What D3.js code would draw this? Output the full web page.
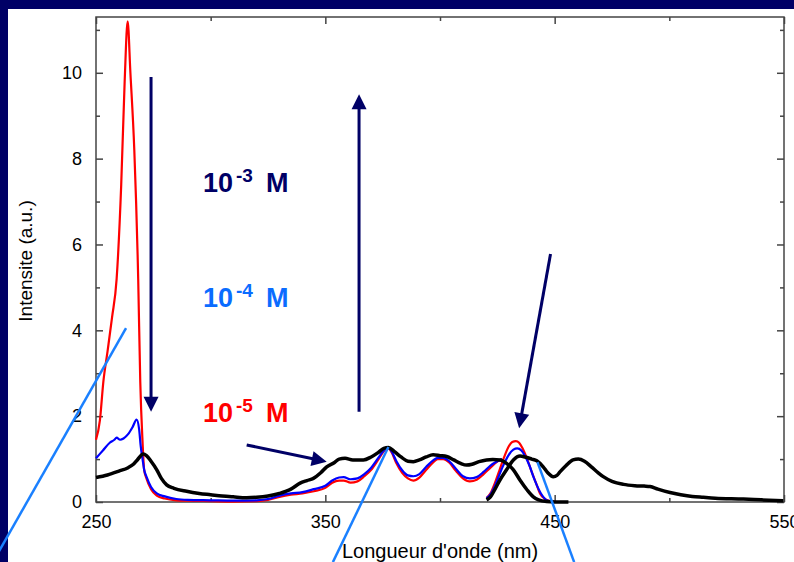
<!DOCTYPE html>
<html><head><meta charset="utf-8">
<script src="https://cdn.jsdelivr.net/npm/d3@7"></script>
<style>
html,body{margin:0;padding:0;background:#000066;}
svg{display:block;}
text{font-family:"Liberation Sans",Arial,sans-serif;}
</style></head>
<body>
<svg id="chart" width="794" height="562"></svg>
<script>
// ---- data ----
const xMajorTicks = [250, 350, 450, 550];
const xMinorTicks = [300, 400, 500];
const yMajorTicks = [0, 2, 4, 6, 8, 10];
const yMinorTicks = [1, 3, 5, 7, 9, 11];

// 10^-5 M (red)
const redWl  = [250,251.7,253.2,255,257,259,261,262.5,263.8,265,266.7,268.4,269.3,270.3,271,272,274,276.5,280,285,290,300,310,320,325,330,335,340,345,350,353,356,358,361,364,367,370,373,375.5,377.5,379,381,383.5,386,388.4,391,394,397,399,401.4,404,407,410,413,416,419,422,425,427];
const redI   = [1.45,1.9,2.8,3.5,4.3,5.2,7.4,9.8,11.2,10.0,8.2,5.2,2.8,1.4,0.75,0.55,0.3,0.15,0.08,0.04,0.03,0.02,0.01,0.02,0.05,0.12,0.17,0.2,0.25,0.33,0.45,0.5,0.5,0.45,0.48,0.6,0.75,0.98,1.18,1.25,1.15,0.9,0.68,0.55,0.5,0.57,0.75,0.92,1.0,1.0,0.92,0.72,0.55,0.48,0.52,0.65,0.8,0.94,1.0];
const redWl2 = [420.3,422,424,426,428,430,431.5,433.1,434.5,436,438,440,441.8,443.6,445.5,448,451];
const redI2  = [0.09,0.2,0.45,0.75,1.05,1.3,1.4,1.42,1.38,1.25,1.0,0.7,0.45,0.2,0.08,0.02,0];

// 10^-4 M (blue)
const blueWl  = [250,253,256,258,259,260.5,262,264,266,267.7,268.8,269.5,270.3,271,272,274,276.5,280,285,290,300,310,320,325,330,335,340,345,350,353,356,358,361,364,367,370,373,375.5,377.5,379,381,383.5,386,388.4,391,394,397,399,401.4,404,407,410,413,416,419,422,425,427];
const blueI   = [1.02,1.2,1.38,1.45,1.5,1.45,1.48,1.58,1.75,1.92,1.7,1.3,1.0,0.75,0.59,0.35,0.2,0.13,0.07,0.05,0.04,0.03,0.04,0.07,0.15,0.2,0.23,0.3,0.38,0.5,0.57,0.58,0.53,0.55,0.65,0.8,1.02,1.2,1.27,1.17,0.95,0.74,0.62,0.6,0.65,0.82,0.97,1.03,1.03,0.95,0.77,0.6,0.55,0.58,0.7,0.85,0.95,1.0];
const blueWl2 = [420.3,422,424,426,428,430,432,433.7,435.5,437,439,441,443,445,447,450];
const blueI2  = [0.09,0.18,0.38,0.65,0.9,1.1,1.22,1.25,1.2,1.08,0.85,0.55,0.3,0.12,0.03,0];

// 10^-3 M (black)
const blackWl  = [250,255,260,264,266.3,268,270.6,272,274,276.5,278.5,280.8,284,289.5,295,300,305,309.8,315.7,320,325,330,335,339,342,344.8,348,350.6,354,356,358.6,362,366.6,370,373,375.5,377.5,380,383,386,388.4,391,394,397,400,402.9,406,409,411.6,414,417,420.3,423,426.2,429,432,435,438,440.7,443,446.5,450,456];
const blackI   = [0.57,0.63,0.72,0.8,0.88,0.98,1.12,1.08,0.95,0.75,0.55,0.4,0.32,0.25,0.2,0.17,0.14,0.12,0.1,0.11,0.14,0.2,0.3,0.44,0.5,0.55,0.68,0.82,0.92,1.0,1.02,0.98,0.98,1.05,1.15,1.25,1.27,1.18,1.05,0.95,0.94,0.98,1.05,1.1,1.08,1.06,0.98,0.9,0.86,0.88,0.94,0.98,0.99,0.98,0.9,0.75,0.5,0.28,0.12,0.05,0.01,0,0];
const blackWl2 = [420.3,422,424,426,429,432,434.9,437,440,442.2,445,447,449.4,451,452.3,455,458,460.3,463,466,469,471.2,475,480,485,489,491.6,495,500.3,505,510,514.8,520,532.3,540,549.7];
const blackI2  = [0.05,0.12,0.3,0.5,0.75,0.98,1.07,1.05,1.0,0.96,0.82,0.68,0.59,0.62,0.7,0.85,0.98,1.0,0.95,0.82,0.68,0.59,0.48,0.41,0.38,0.37,0.36,0.3,0.22,0.17,0.13,0.11,0.09,0.07,0.05,0.03];

const labels = [
  {exp:"-3", color:"#000066", y:192},
  {exp:"-4", color:"#0a6cff", y:307},
  {exp:"-5", color:"#ff0000", y:422}
];

// ---- drawing ----
const W = 794, H = 562;
const svg = d3.select("#chart");
const m = {left:96, right:784, top:17, bottom:502};

svg.append("rect").attr("x",8).attr("y",9).attr("width",W-8).attr("height",H-9).attr("fill","#fff");

const x = d3.scaleLinear().domain([250,550]).range([m.left,m.right]);
const y = d3.scaleLinear().domain([0,11.3]).range([m.bottom,m.top]);

const tickFont = 18;
function styleAxis(g){
  g.select(".domain").remove();
  g.selectAll("line").attr("stroke","#444").attr("stroke-width",1.5);
  g.selectAll("text").attr("font-size",tickFont).attr("fill","#000");
}
// bottom
svg.append("g").attr("transform",`translate(0,${m.bottom})`)
  .call(d3.axisBottom(x).tickValues(xMajorTicks).tickSize(-7).tickPadding(13).tickFormat(d3.format("d")))
  .call(styleAxis);
svg.append("g").attr("transform",`translate(0,${m.bottom})`)
  .call(d3.axisBottom(x).tickValues(xMinorTicks).tickSize(-4).tickFormat(""))
  .call(styleAxis);
// top
svg.append("g").attr("transform",`translate(0,${m.top})`)
  .call(d3.axisTop(x).tickValues(xMajorTicks).tickSize(-7).tickFormat(""))
  .call(styleAxis);
svg.append("g").attr("transform",`translate(0,${m.top})`)
  .call(d3.axisTop(x).tickValues(xMinorTicks).tickSize(-4).tickFormat(""))
  .call(styleAxis);
// left
svg.append("g").attr("transform",`translate(${m.left},0)`)
  .call(d3.axisLeft(y).tickValues(yMajorTicks).tickSize(-7).tickPadding(14).tickFormat(d3.format("d")))
  .call(styleAxis);
svg.append("g").attr("transform",`translate(${m.left},0)`)
  .call(d3.axisLeft(y).tickValues(yMinorTicks).tickSize(-4).tickFormat(""))
  .call(styleAxis);
// right
svg.append("g").attr("transform",`translate(${m.right},0)`)
  .call(d3.axisRight(y).tickValues(yMajorTicks).tickSize(-7).tickFormat(""))
  .call(styleAxis);
svg.append("g").attr("transform",`translate(${m.right},0)`)
  .call(d3.axisRight(y).tickValues(yMinorTicks).tickSize(-4).tickFormat(""))
  .call(styleAxis);

// frame
svg.append("rect").attr("x",m.left).attr("y",m.top).attr("width",m.right-m.left).attr("height",m.bottom-m.top)
  .attr("fill","none").attr("stroke","#444").attr("stroke-width",1.5);

// axis titles
svg.append("text").attr("x",440).attr("y",558).attr("text-anchor","middle").attr("font-size",20).attr("fill","#000")
  .text("Longueur d'onde (nm)");
svg.append("text").attr("transform","translate(32,261) rotate(-90)").attr("text-anchor","middle").attr("font-size",19).attr("fill","#000")
  .text("Intensite (a.u.)");

// curves
const line = d3.line().x(d=>x(d[0])).y(d=>y(d[1])).curve(d3.curveMonotoneX);
function series(wl, vals, color, w){
  svg.append("path").datum(d3.zip(wl, vals)).attr("d", line)
    .attr("fill","none").attr("stroke",color).attr("stroke-width",w).attr("stroke-linejoin","round");
}
series(redWl, redI, "#ff0000", 2.2);
series(redWl2, redI2, "#ff0000", 2.2);
series(blueWl, blueI, "#0000ff", 2.2);
series(blueWl2, blueI2, "#0000ff", 2.2);
series(blackWl, blackI, "#000000", 3.5);
series(blackWl2, blackI2, "#000000", 3.5);

// arrows (data coords)
const arrows = [
  {x1:274, y1:9.9, x2:274, y2:2.1},
  {x1:364.7, y1:2.1, x2:364.7, y2:9.5},
  {x1:315.7, y1:1.33, x2:350.6, y2:0.94},
  {x1:448.2, y1:5.78, x2:434.5, y2:1.72}
];
const navy = "#000066";
arrows.forEach(a=>{
  const X1=x(a.x1), Y1=y(a.y1), X2=x(a.x2), Y2=y(a.y2);
  const dx=X2-X1, dy=Y2-Y1, L=Math.hypot(dx,dy), ux=dx/L, uy=dy/L;
  const hl=15, hw=7.5;
  const bx=X2-ux*hl, by=Y2-uy*hl;
  svg.append("line").attr("x1",X1).attr("y1",Y1).attr("x2",bx+ux*2).attr("y2",by+uy*2)
    .attr("stroke",navy).attr("stroke-width",3);
  svg.append("path").attr("d",`M${X2},${Y2}L${bx-uy*hw},${by+ux*hw}L${bx+uy*hw},${by-ux*hw}Z`).attr("fill",navy);
});

// concentration labels
labels.forEach(l=>{
  const t = svg.append("text").attr("y",l.y).attr("fill",l.color).attr("font-weight","bold");
  t.append("tspan").attr("x",203).attr("font-size",27).text("10");
  t.append("tspan").attr("x",236).attr("dy",-10).attr("font-size",19).text(l.exp);
  t.append("tspan").attr("x",266).attr("dy",10).attr("font-size",27).text("M");
});

// decorative light-blue lines
const deco = [
  {x1:263.1, y1:4.05, x2:205, y2:-1.4},
  {x1:377.5, y1:1.28, x2:353.3, y2:-1.4},
  {x1:442.5, y1:0.93, x2:458.5, y2:-1.4}
];
deco.forEach(d=>{
  svg.append("line").attr("x1",x(d.x1)).attr("y1",y(d.y1)).attr("x2",x(d.x2)).attr("y2",y(d.y2))
    .attr("stroke","#1a80ff").attr("stroke-width",2.5);
});
</script>
</body></html>
